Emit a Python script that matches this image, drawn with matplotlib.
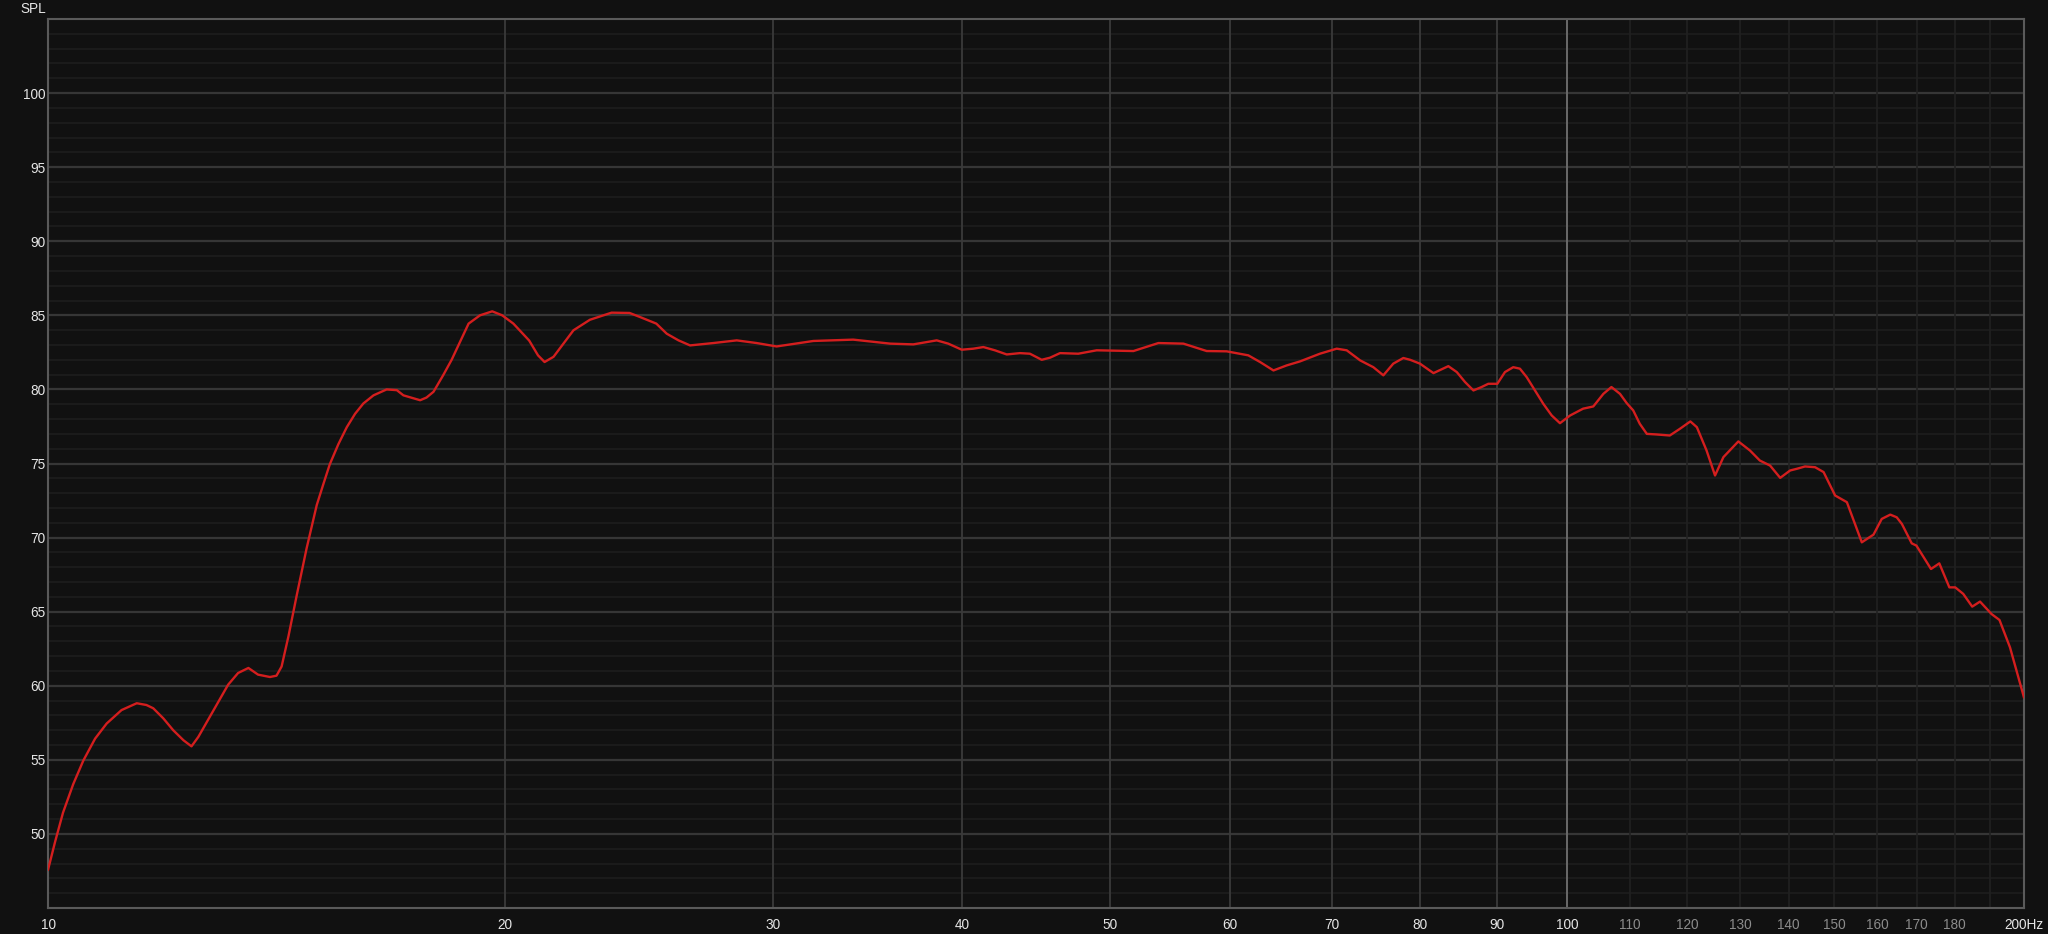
#! /usr/bin/env python3
# -*- coding: utf-8 -*-
import numpy as np
import matplotlib
matplotlib.use('Agg')
import matplotlib.pyplot as plt

# Точки АЧХ (частота, Гц / SPL, дБ)
freq_hz = [10.0, 10.11, 10.23, 10.39, 10.55, 10.74, 10.93, 11.18, 11.44, 11.61,
           11.73, 11.91, 12.09, 12.28, 12.43, 12.56, 12.78, 13.14, 13.34, 13.55,
           13.75, 14.0, 14.14, 14.25, 14.40, 14.58, 14.80, 15.03, 15.18, 15.33,
           15.53, 15.73, 15.93, 16.13, 16.38, 16.71, 16.97, 17.14, 17.58, 17.75,
           17.94, 18.21, 18.44, 18.92, 19.25, 19.61, 19.91, 20.25, 20.74, 21.02,
           21.23, 21.52, 22.18, 22.74, 23.50, 24.15, 24.53, 25.15, 25.55, 26.01,
           26.47, 27.42, 28.41, 29.28, 30.18, 31.91, 33.90, 35.85, 37.13, 38.47,
           39.15, 39.96, 40.67, 41.29, 42.02, 42.78, 43.65, 44.31, 45.11, 45.68,
           46.38, 47.68, 49.03, 51.84, 53.84, 55.92, 57.93, 59.71, 61.7, 62.81,
           64.1, 65.4, 66.73, 68.78, 70.55, 71.63, 73.1, 74.58, 75.72, 76.87,
           78.05, 78.85, 80.04, 81.7, 83.56, 84.64, 85.7, 86.8, 87.88, 88.78,
           90.0, 91.05, 92.2, 93.14, 94.1, 95.29, 96.5, 97.74, 98.97, 100.5,
           102.5, 104.1, 105.7, 107.0, 108.4, 109.5, 110.6, 111.7, 112.9, 114.6,
           116.9, 118.7, 120.6, 121.8, 123.6, 125.2, 126.8, 129.7, 132.0, 134.0,
           136.1, 138.2, 140.3, 141.7, 143.5, 145.7, 147.6, 150.2, 152.9, 154.8,
           156.4, 159.2, 161.2, 163.3, 164.9, 166.2, 168.7, 169.9, 173.7, 175.9,
           178.6, 180.2, 182.4, 184.9, 187.1, 190.4, 192.7, 195.8, 200.0]
spl_db = [47.57, 49.5, 51.43, 53.36, 54.95, 56.43, 57.45, 58.36, 58.82, 58.7,
          58.48, 57.8, 57.0, 56.32, 55.91, 56.55, 57.9, 60.07, 60.86, 61.2,
          60.75, 60.59, 60.68, 61.3, 63.36, 66.1, 69.27, 72.2, 73.6, 74.95,
          76.3, 77.45, 78.36, 79.05, 79.6, 80.0, 79.95, 79.6, 79.27, 79.45,
          79.84, 80.98, 82.0, 84.44, 85.0, 85.27, 85.0, 84.44, 83.3, 82.3,
          81.85, 82.2, 83.99, 84.7, 85.18, 85.16, 84.89, 84.44, 83.76, 83.31,
          82.97, 83.13, 83.31, 83.13, 82.9, 83.27, 83.36, 83.09, 83.04, 83.31,
          83.09, 82.68, 82.75, 82.86, 82.64, 82.36, 82.45, 82.41, 82.0, 82.14,
          82.45, 82.41, 82.64, 82.59, 83.13, 83.09, 82.59, 82.57, 82.3, 81.85,
          81.28, 81.62, 81.89, 82.41, 82.75, 82.64, 81.96, 81.5, 80.95, 81.74,
          82.12, 82.0, 81.74, 81.1, 81.57, 81.17, 80.5, 79.93, 80.16, 80.38,
          80.38, 81.17, 81.5, 81.4, 80.83, 79.93, 79.03, 78.24, 77.72, 78.24,
          78.7, 78.85, 79.7, 80.16, 79.7, 79.08, 78.58, 77.68, 77.0, 76.96,
          76.89, 77.34, 77.84, 77.45, 75.88, 74.19, 75.43, 76.49, 75.88, 75.2,
          74.86, 74.03, 74.53, 74.64, 74.8, 74.75, 74.42, 72.84, 72.39, 70.92,
          69.68, 70.2, 71.26, 71.55, 71.37, 70.92, 69.61, 69.46, 67.88, 68.26,
          66.64, 66.64, 66.2, 65.34, 65.68, 64.84, 64.44, 62.59, 59.21]

# Сетка и подписи осей
major_x = [20, 30, 40, 50, 60, 70, 80, 90]
minor_x = [110, 120, 130, 140, 150, 160, 170, 180, 190]
xtick_bright = [10, 20, 30, 40, 50, 60, 70, 80, 90, 100]
xtick_dim = [110, 120, 130, 140, 150, 160, 170, 180]
yticks = [50, 55, 60, 65, 70, 75, 80, 85, 90, 95, 100]

BG = '#111111'
plt.rcParams['font.family'] = ['Liberation Sans', 'DejaVu Sans']

fig = plt.figure(figsize=(20.48, 9.34), dpi=100, facecolor=BG)
W, H = 2048, 934
ax = fig.add_axes([48 / W, (H - 908) / H, 1976 / W, (908 - 19) / H])
ax.set_facecolor(BG)
ax.set_xscale('log')
ax.set_xlim(10, 200)
ax.set_ylim(45, 105)

# горизонтальная сетка: каждые 1 дБ тонкая, каждые 5 дБ ярче
for v in range(46, 105):
    c = '#363636' if v % 5 == 0 else '#1e1e1e'
    ax.axhline(v, color=c, lw=1.6 if v % 5 == 0 else 1.2, zorder=1)
for f in minor_x:
    ax.axvline(f, color='#212121', lw=1.2, zorder=1)
for f in major_x:
    ax.axvline(f, color='#3a3a3a', lw=1.3, zorder=1)
ax.axvline(100, color='#6a6a6a', lw=1.4, zorder=1)

ax.plot(freq_hz, spl_db, color='#d41e1e', lw=1.7, zorder=3,
        solid_joinstyle='round', solid_capstyle='round')

for s in ax.spines.values():
    s.set_color('#5a5a5a')
    s.set_linewidth(1.5)

ax.minorticks_off()
xt = xtick_bright + xtick_dim + [200]
xl = [str(v) for v in xtick_bright + xtick_dim] + ['200Hz']
ax.set_xticks(xt)
ax.set_xticklabels(xl)
ax.set_yticks(yticks)
ax.set_yticklabels([str(v) for v in yticks])
ax.tick_params(axis='both', length=0, labelsize=9.8, colors='#e6e6e6')
ax.tick_params(axis='x', pad=7)
ax.tick_params(axis='y', pad=2)
for lab, v in zip(ax.get_xticklabels(), xt):
    if v in xtick_dim:
        lab.set_color('#8c8c8c')

fig.text(46 / W, 1 - 9 / H, 'SPL', color='#e6e6e6', fontsize=9.8,
         ha='right', va='center')

fig.savefig('out.png', dpi=100, facecolor=BG)
